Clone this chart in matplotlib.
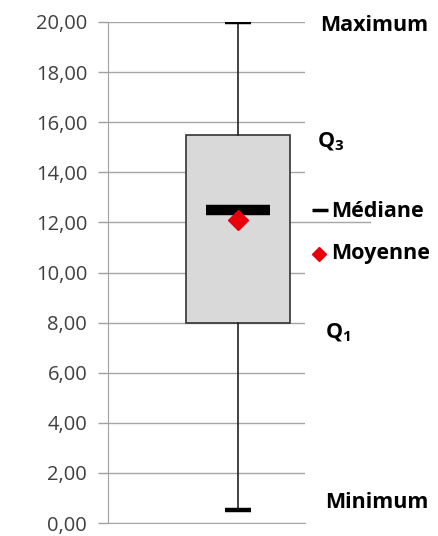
import matplotlib
matplotlib.use("Agg")
import matplotlib.pyplot as plt
import matplotlib.transforms as mtransforms

plt.rcParams['font.family'] = ['Open Sans', 'DejaVu Sans']
plt.rcParams['mathtext.fontset'] = 'custom'
plt.rcParams['mathtext.rm'] = 'Open Sans'
plt.rcParams['mathtext.bf'] = 'Open Sans:bold'

# Box plot statistics
minimum = 0.5
q1 = 8.0
median = 12.5
q3 = 15.5
maximum = 20.0
mean = 12.1

y_ticks = [0, 2, 4, 6, 8, 10, 12, 14, 16, 18, 20]
y_tick_labels = ['0,00', '2,00', '4,00', '6,00', '8,00', '10,00',
                 '12,00', '14,00', '16,00', '18,00', '20,00']

fig = plt.figure(figsize=(4.38, 5.36), dpi=100)
ax = fig.add_axes([108 / 438, 13 / 536, 197 / 438, 501 / 536])

center = 0.66
stats = [dict(med=median, q1=q1, q3=q3, whislo=minimum, whishi=maximum,
              mean=mean, fliers=[])]
ax.bxp(stats, positions=[center], widths=0.528, capwidths=0.132,
       showmeans=False, patch_artist=True,
       boxprops=dict(facecolor='#d9d9d9', edgecolor='#333333', linewidth=1.2),
       whiskerprops=dict(color='#222222', linewidth=1.2),
       capprops=dict(color='black', linewidth=3.2, solid_capstyle='butt'),
       medianprops=dict(visible=False), zorder=3)

# thick median bar and mean diamond
ax.hlines(median, center - 0.163, center + 0.163, color='black',
          linewidth=7.5, zorder=4)
ax.plot([center], [mean], marker='D', color='#e8000b', markersize=10.5,
        linestyle='none', zorder=5)

ax.set_xlim(0, 1)
ax.set_ylim(0, 20)
ax.set_yticks(y_ticks)
ax.set_yticklabels(y_tick_labels)
ax.set_xticks([])
ax.tick_params(axis='y', length=7, width=1, color='#a0a0a0',
               labelsize=14.5, labelcolor='#404040', pad=8)

ax.grid(axis='y', color='#a6a6a6', linewidth=1, zorder=0)
ax.axhline(12, xmin=1, xmax=1.33, color='#a6a6a6', linewidth=1, clip_on=False)
for side in ['top', 'right']:
    ax.spines[side].set_visible(False)
ax.spines['left'].set_color('#a0a0a0')
ax.spines['bottom'].set_color('#a6a6a6')

# annotations on the right
tr = mtransforms.blended_transform_factory(ax.transAxes, ax.transData)
kw = dict(transform=tr, fontsize=15.5, fontweight='bold', va='center',
          ha='left', color='black', clip_on=False)
ax.text(1.076, 19.85, 'Maximum', **kw)
ax.text(1.061, 15.2, r'$\mathbf{Q}_\mathbf{3}$', **kw)
ax.plot([1.078], [12.5], marker='_', color='black', markersize=11,
        markeredgewidth=2.5, transform=tr, clip_on=False, linestyle='none')
ax.text(1.135, 12.45, 'Médiane', **kw)
ax.plot([1.07], [10.75], marker='D', color='#e8000b', markersize=7,
        transform=tr, clip_on=False, linestyle='none')
ax.text(1.135, 10.75, 'Moyenne', **kw)
ax.text(1.10, 7.6, r'$\mathbf{Q}_\mathbf{1}$', **kw)
ax.text(1.10, 0.8, 'Minimum', **kw)

fig.savefig('out.png', dpi=100)
